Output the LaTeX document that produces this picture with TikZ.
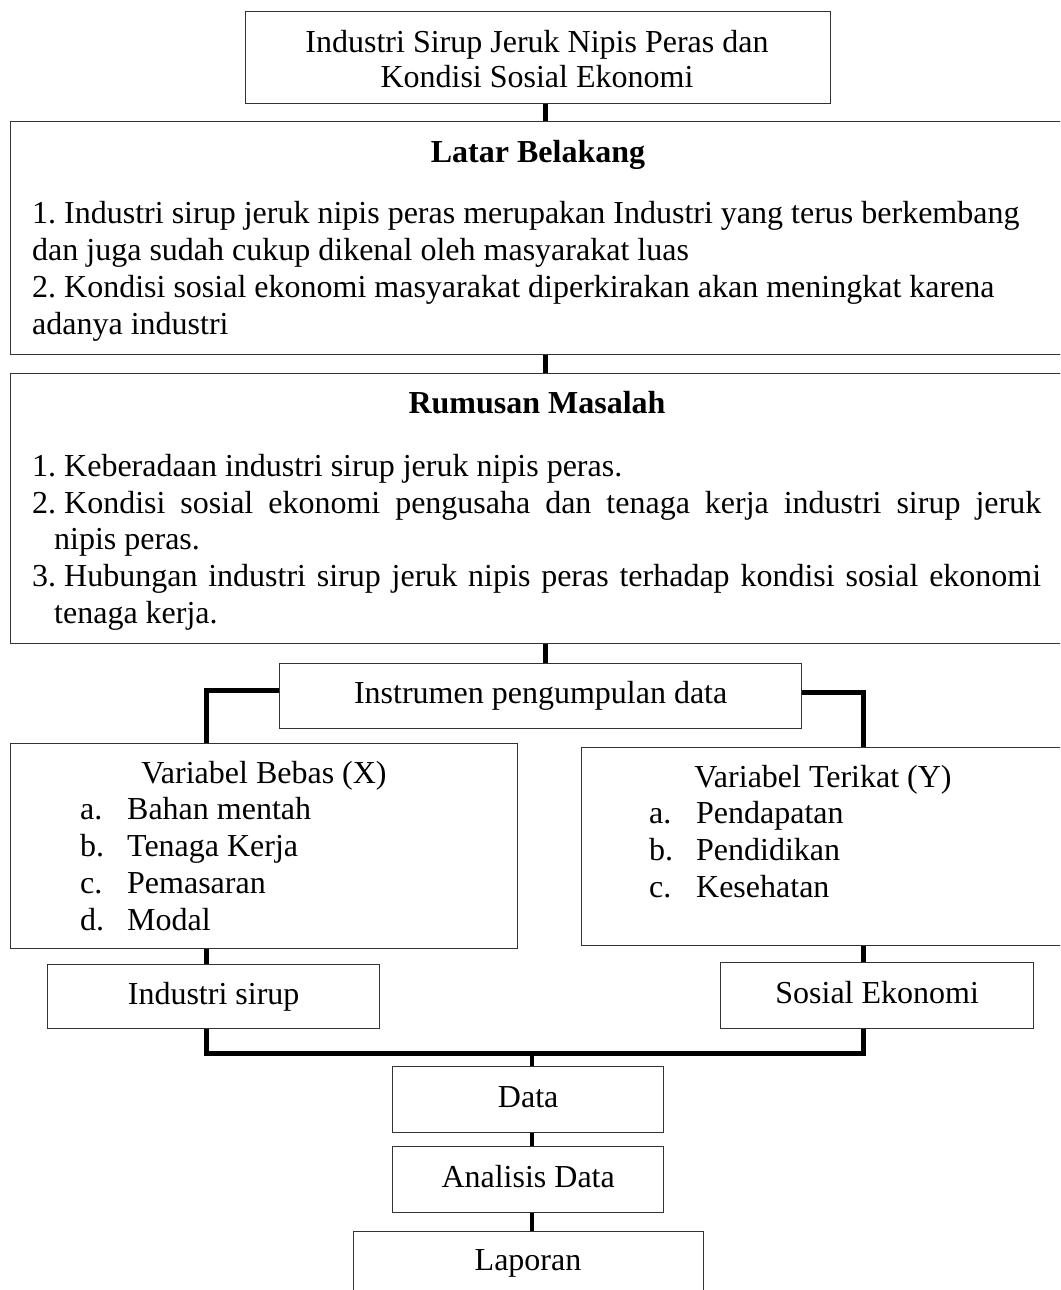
\documentclass[tikz,border=0pt]{standalone}
\usepackage{fontspec}
\setmainfont{Liberation Serif}
\frenchspacing
\begin{document}
\tikzset{
  box/.style={draw=black!80, line width=1.3pt, anchor=north west, inner sep=0pt,
    font=\fontsize{32}{37}\selectfont, text height=21.8pt, text depth=7pt},
  conn/.style={line width=5pt, black},
  thinconn/.style={line width=4pt, black},
  txt/.style={inner sep=0pt, font=\fontsize{32}{37}\selectfont, align=left, anchor=base west},
  ttl/.style={inner sep=0pt, font=\fontsize{32}{37}\selectfont, anchor=base},
}
\begin{tikzpicture}[x=1pt,y=-1pt]
\useasboundingbox (0,0) rectangle (1060,1290);
\clip (0,0) rectangle (1060,1290);
% boxes
\node[box, minimum width=585pt, minimum height=92pt] (top) at (245,11) {};
\node[box, minimum width=1056pt, minimum height=233pt] (latar) at (10,121) {};
\node[box, minimum width=1056pt, minimum height=270pt] (rumusan) at (10,373) {};
\node[box, minimum width=522pt, minimum height=65pt] (instr) at (279,663) {Instrumen pengumpulan data};
\node[box, minimum width=507pt, minimum height=205pt] (bebas) at (10,743) {};
\node[box, minimum width=484pt, minimum height=198pt] (terikat) at (581,747) {};
\node[box, minimum width=332pt, minimum height=64pt] (indus) at (47,964) {Industri sirup};
\node[box, minimum width=313pt, minimum height=66pt] (sosek) at (720,962) {Sosial Ekonomi};
\node[box, minimum width=271pt, minimum height=66pt] (data) at (392,1066) {Data};
\node[box, minimum width=271pt, minimum height=66pt] (anal) at (392,1146) {Analisis Data};
\node[box, minimum width=350pt, minimum height=90pt] (lap) at (353,1231) {};
\node[ttl] (laptxt) at (528,1270) {Laporan};
% texts (base anchor = baseline of the last line)
\node[ttl, align=center, font=\fontsize{32}{35}\selectfont] (toptxt) at (537,87)
  {Industri Sirup Jeruk Nipis Peras dan\\Kondisi Sosial Ekonomi};
\node[ttl, font=\fontsize{32}{37}\selectfont\bfseries] (lbtitle) at (538,162) {Latar Belakang};
\node[txt] (lbbody) at (32,334)
  {1. Industri sirup jeruk nipis peras merupakan Industri yang terus berkembang\\
   dan juga sudah cukup dikenal oleh masyarakat luas\\
   2. Kondisi sosial ekonomi masyarakat diperkirakan akan meningkat karena\\
   adanya industri};
\node[ttl, font=\fontsize{32}{37}\selectfont\bfseries] (rmtitle) at (537,413) {Rumusan Masalah};
\node[txt, font=\fontsize{32}{36.6}\selectfont] (rmbody) at (32,623)
  {\makebox[32pt][l]{1.}Keberadaan industri sirup jeruk nipis peras.\\
   \makebox[1009pt][s]{\makebox[32pt][l]{2.}Kondisi sosial ekonomi pengusaha dan tenaga kerja industri sirup jeruk}\\
   \hspace*{22pt}nipis peras.\\
   \makebox[1009pt][s]{\makebox[32pt][l]{3.}Hubungan industri sirup jeruk nipis peras terhadap kondisi sosial ekonomi}\\
   \hspace*{22pt}tenaga kerja.};
\node[ttl] (bbtitle) at (264,783) {Variabel Bebas (X)};
\node[txt, font=\fontsize{32}{36.7}\selectfont] (bbbody) at (80,930)
  {\makebox[47pt][l]{a.}Bahan mentah\\
   \makebox[47pt][l]{b.}Tenaga Kerja\\
   \makebox[47pt][l]{c.}Pemasaran\\
   \makebox[47pt][l]{d.}Modal};
\node[ttl] (tktitle) at (823,787) {Variabel Terikat (Y)};
\node[txt] (tkbody) at (649,897)
  {\makebox[47pt][l]{a.}Pendapatan\\
   \makebox[47pt][l]{b.}Pendidikan\\
   \makebox[47pt][l]{c.}Kesehatan};
% connector guides
\coordinate (cx) at (545,0);
\coordinate (lx) at (206,0);
\coordinate (rx) at (863,0);
\coordinate (ly) at (0,690);
\coordinate (ry) at (0,692);
\coordinate (jn) at (532,1053);
% connectors
\draw[conn] (top.south -| cx) -- (latar.north -| cx);
\draw[conn] (latar.south -| cx) -- (rumusan.north -| cx);
\draw[conn] (rumusan.south -| cx) -- (instr.north -| cx);
\draw[conn] (instr.west |- ly) -| (bebas.north -| lx);
\draw[conn] (instr.east |- ry) -| (terikat.north -| rx);
\draw[conn] (bebas.south -| lx) -- (indus.north -| lx);
\draw[conn] (terikat.south -| rx) -- (sosek.north -| rx);
\draw[conn] (indus.south -| lx) |- (jn) -| (sosek.south -| rx);
\draw[thinconn] (jn) -- (data.north -| jn);
\draw[thinconn] (data.south -| jn) -- (anal.north -| jn);
\draw[thinconn] (anal.south -| jn) -- (lap.north -| jn);
\end{tikzpicture}
\end{document}
